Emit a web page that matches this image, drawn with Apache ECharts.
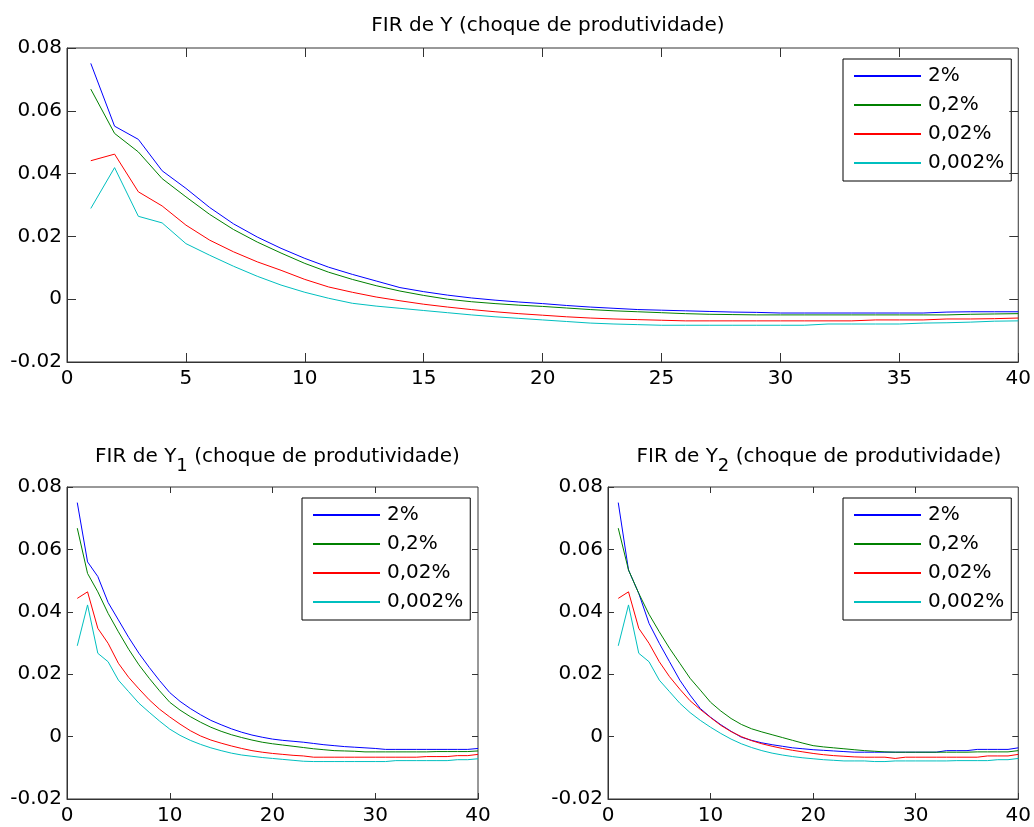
<!DOCTYPE html>
<html>
<head>
<meta charset="utf-8">
<script src="https://cdn.jsdelivr.net/npm/echarts@6/dist/echarts.min.js"></script>
<style>
  html, body { margin: 0; padding: 0; background: #fff; }
  #chart { width: 1034px; height: 827px; }
</style>
</head>
<body>
<div id="chart"></div>
<script>
// nomes das séries (legenda)
const seriesNames = ['2%', '0,2%', '0,02%', '0,002%'];
const seriesColors = ['#0000ff', '#008000', '#ff0000', '#00bfbf'];
const yTicks = [-0.02, 0, 0.02, 0.04, 0.06, 0.08];
const xTicksTop = [0, 5, 10, 15, 20, 25, 30, 35, 40];
const xTicksBottom = [0, 10, 20, 30, 40];

// FIR de Y, períodos 1..40
const yBlue = [0.0751, 0.0551, 0.0509, 0.0409, 0.0353, 0.0292, 0.0240, 0.0198, 0.0162, 0.0130,
    0.0102, 0.0079, 0.0058, 0.0037, 0.0024, 0.0013, 0.0004, -0.0003, -0.0009, -0.0014,
    -0.0020, -0.0025, -0.0029, -0.0033, -0.0035, -0.0037, -0.0039, -0.0041, -0.0042, -0.0044,
    -0.0044, -0.0044, -0.0044, -0.0044, -0.0044, -0.0044, -0.0041, -0.0040, -0.0040, -0.0040];
const yGreen = [0.0669, 0.0528, 0.0469, 0.0384, 0.0326, 0.0270, 0.0222, 0.0182, 0.0147, 0.0114,
    0.0086, 0.0063, 0.0043, 0.0026, 0.0012, 0.0000, -0.0008, -0.0014, -0.0019, -0.0023,
    -0.0028, -0.0033, -0.0037, -0.0040, -0.0043, -0.0046, -0.0048, -0.0049, -0.0050, -0.0050,
    -0.0050, -0.0050, -0.0050, -0.0050, -0.0050, -0.0050, -0.0050, -0.0048, -0.0047, -0.0046];
const yRed = [0.0441, 0.0462, 0.0342, 0.0297, 0.0236, 0.0188, 0.0151, 0.0119, 0.0092, 0.0063,
    0.0039, 0.0022, 0.0007, -0.0005, -0.0016, -0.0025, -0.0033, -0.0040, -0.0046, -0.0051,
    -0.0056, -0.0060, -0.0063, -0.0065, -0.0067, -0.0069, -0.0069, -0.0069, -0.0069, -0.0069,
    -0.0069, -0.0069, -0.0069, -0.0066, -0.0066, -0.0066, -0.0063, -0.0063, -0.0062, -0.0060];
const yCyan = [0.0289, 0.0419, 0.0264, 0.0243, 0.0177, 0.0140, 0.0105, 0.0073, 0.0045, 0.0022,
    0.0003, -0.0013, -0.0022, -0.0029, -0.0036, -0.0043, -0.0050, -0.0056, -0.0061, -0.0066,
    -0.0071, -0.0076, -0.0079, -0.0081, -0.0083, -0.0083, -0.0083, -0.0083, -0.0083, -0.0083,
    -0.0083, -0.0079, -0.0079, -0.0079, -0.0079, -0.0076, -0.0075, -0.0073, -0.0070, -0.0069];

// FIR de Y1
const y1Blue = [0.0750, 0.0560, 0.0513, 0.0430, 0.0374, 0.0318, 0.0267, 0.0222, 0.0180, 0.0141,
    0.0113, 0.0090, 0.0070, 0.0052, 0.0038, 0.0025, 0.0014, 0.0005, -0.0002, -0.0008,
    -0.0012, -0.0015, -0.0018, -0.0022, -0.0026, -0.0029, -0.0032, -0.0034, -0.0036, -0.0038,
    -0.0041, -0.0041, -0.0041, -0.0041, -0.0041, -0.0041, -0.0041, -0.0041, -0.0041, -0.0038];
const y1Green = [0.0668, 0.0523, 0.0464, 0.0395, 0.0336, 0.0280, 0.0230, 0.0187, 0.0147, 0.0110,
    0.0085, 0.0064, 0.0046, 0.0030, 0.0017, 0.0006, -0.0003, -0.0011, -0.0018, -0.0023,
    -0.0027, -0.0031, -0.0035, -0.0039, -0.0042, -0.0045, -0.0046, -0.0047, -0.0049, -0.0049,
    -0.0049, -0.0049, -0.0049, -0.0049, -0.0049, -0.0048, -0.0048, -0.0048, -0.0048, -0.0046];
const y1Red = [0.0443, 0.0464, 0.0347, 0.0299, 0.0235, 0.0190, 0.0153, 0.0118, 0.0088, 0.0063,
    0.0040, 0.0019, 0.0002, -0.0011, -0.0021, -0.0030, -0.0038, -0.0045, -0.0050, -0.0054,
    -0.0057, -0.0060, -0.0062, -0.0066, -0.0066, -0.0066, -0.0066, -0.0066, -0.0066, -0.0066,
    -0.0066, -0.0066, -0.0066, -0.0066, -0.0064, -0.0064, -0.0064, -0.0061, -0.0061, -0.0057];
const y1Cyan = [0.0291, 0.0422, 0.0267, 0.0240, 0.0181, 0.0144, 0.0107, 0.0078, 0.0050, 0.0024,
    0.0004, -0.0012, -0.0025, -0.0036, -0.0045, -0.0053, -0.0059, -0.0063, -0.0067, -0.0070,
    -0.0073, -0.0076, -0.0079, -0.0080, -0.0080, -0.0080, -0.0080, -0.0080, -0.0080, -0.0080,
    -0.0080, -0.0077, -0.0077, -0.0077, -0.0077, -0.0077, -0.0077, -0.0074, -0.0074, -0.0071];

// FIR de Y2
const y2Blue = [0.0750, 0.0534, 0.0459, 0.0363, 0.0299, 0.0240, 0.0181, 0.0133, 0.0090, 0.0062,
    0.0038, 0.0017, -0.0002, -0.0012, -0.0020, -0.0026, -0.0031, -0.0036, -0.0039, -0.0042,
    -0.0044, -0.0046, -0.0048, -0.0050, -0.0050, -0.0050, -0.0050, -0.0050, -0.0050, -0.0050,
    -0.0050, -0.0050, -0.0045, -0.0045, -0.0045, -0.0041, -0.0041, -0.0041, -0.0041, -0.0036];
const y2Green = [0.0668, 0.0534, 0.0459, 0.0392, 0.0336, 0.0283, 0.0235, 0.0187, 0.0149, 0.0110,
    0.0082, 0.0058, 0.0039, 0.0025, 0.0015, 0.0006, -0.0003, -0.0012, -0.0021, -0.0029,
    -0.0033, -0.0036, -0.0039, -0.0042, -0.0045, -0.0047, -0.0049, -0.0050, -0.0050, -0.0050,
    -0.0050, -0.0050, -0.0050, -0.0050, -0.0050, -0.0049, -0.0049, -0.0049, -0.0049, -0.0045];
const y2Red = [0.0443, 0.0464, 0.0347, 0.0299, 0.0240, 0.0192, 0.0152, 0.0115, 0.0087, 0.0061,
    0.0036, 0.0016, 0.0000, -0.0013, -0.0023, -0.0031, -0.0038, -0.0044, -0.0049, -0.0054,
    -0.0058, -0.0061, -0.0063, -0.0065, -0.0066, -0.0066, -0.0066, -0.0070, -0.0066, -0.0066,
    -0.0066, -0.0066, -0.0066, -0.0066, -0.0066, -0.0066, -0.0062, -0.0062, -0.0062, -0.0057];
const y2Cyan = [0.0291, 0.0422, 0.0267, 0.0240, 0.0181, 0.0144, 0.0107, 0.0077, 0.0052, 0.0030,
    0.0010, -0.0008, -0.0023, -0.0035, -0.0045, -0.0053, -0.0059, -0.0064, -0.0068, -0.0071,
    -0.0074, -0.0076, -0.0078, -0.0078, -0.0078, -0.0080, -0.0080, -0.0078, -0.0078, -0.0078,
    -0.0078, -0.0078, -0.0078, -0.0077, -0.0077, -0.0077, -0.0077, -0.0074, -0.0074, -0.0070];

const panels = [
    { title: 'FIR de Y (choque de produtividade)', data: [yBlue, yGreen, yRed, yCyan], xTicks: xTicksTop,
      grid: { left: 67, top: 48, width: 952, height: 314 }, titleY: 11, tick: 9,
      legend: { left: 843, top: 59 } },
    { title: 'FIR de Y{sub|1} (choque de produtividade)', data: [y1Blue, y1Green, y1Red, y1Cyan], xTicks: xTicksBottom,
      grid: { left: 67, top: 487, width: 411, height: 312 }, titleY: 434, tick: 6,
      legend: { left: 302, top: 498 } },
    { title: 'FIR de Y{sub|2} (choque de produtividade)', data: [y2Blue, y2Green, y2Red, y2Cyan], xTicks: xTicksBottom,
      grid: { left: 608, top: 487, width: 412, height: 312 }, titleY: 434, tick: 6,
      legend: { left: 843, top: 498 } }
];

const FONT = 'DejaVu Sans';
const FS = 20;
const frameColor = '#333333';
const X_MIN = 0, X_MAX = 40;
const Y_MIN = yTicks[0], Y_MAX = yTicks[yTicks.length - 1];

function toPoints(values) {
    return values.map((v, i) => [i + 1, v]);
}

function fmtY(v) {
    if (Math.abs(v) < 1e-9) return '0';
    return v.toFixed(2);
}

// traços internos do topo e da direita, como segmentos de markLine
function topRightTicks(p) {
    const g = p.grid;
    const dy = p.tick * (Y_MAX - Y_MIN) / g.height;
    const dx = p.tick * (X_MAX - X_MIN) / g.width;
    const segs = [];
    p.xTicks.slice(1, -1).forEach(v => {
        segs.push([{ coord: [v, Y_MAX] }, { coord: [v, Y_MAX - dy] }]);
    });
    yTicks.slice(1, -1).forEach(v => {
        segs.push([{ coord: [X_MAX, v] }, { coord: [X_MAX - dx, v] }]);
    });
    return segs;
}

const option = {
    animation: false,
    backgroundColor: '#fff',
    title: [], grid: [], xAxis: [], yAxis: [], legend: [], series: []
};

panels.forEach((p, k) => {
    const g = p.grid;
    option.grid.push({
        left: g.left, top: g.top, width: g.width, height: g.height,
        show: true, borderColor: frameColor, borderWidth: 1, backgroundColor: 'transparent'
    });
    option.title.push({
        text: p.title,
        left: g.left + g.width / 2,
        top: p.titleY,
        textAlign: 'center',
        textStyle: {
            fontFamily: FONT, fontSize: FS, fontWeight: 'normal', color: '#000',
            rich: { sub: { fontFamily: FONT, fontSize: 18, color: '#000', padding: [18, 0, 0, 0] } }
        }
    });
    option.xAxis.push({
        type: 'value', gridIndex: k, min: X_MIN, max: X_MAX, interval: X_MAX / (p.xTicks.length - 1),
        axisLine: { show: true, onZero: false, lineStyle: { color: frameColor, width: 1 } },
        axisTick: { show: true, inside: true, length: p.tick, lineStyle: { color: frameColor, width: 1 } },
        splitLine: { show: false },
        axisLabel: { fontFamily: FONT, fontSize: FS, color: '#000', margin: 7 }
    });
    option.yAxis.push({
        type: 'value', gridIndex: k, min: Y_MIN, max: Y_MAX, interval: 0.02,
        axisLine: { show: true, onZero: false, lineStyle: { color: frameColor, width: 1 } },
        axisTick: { show: true, inside: true, length: p.tick, lineStyle: { color: frameColor, width: 1 } },
        splitLine: { show: false },
        axisLabel: { fontFamily: FONT, fontSize: FS, color: '#000', margin: 5, formatter: fmtY }
    });

    option.legend.push({
        left: p.legend.left, top: p.legend.top, orient: 'vertical',
        data: seriesNames, icon: 'rect', itemWidth: 67, itemHeight: 2, itemGap: 9,
        padding: [7, 7, 8, 11], borderColor: '#000', borderWidth: 1, borderRadius: 0,
        backgroundColor: '#fff', selectedMode: false,
        textStyle: { fontFamily: FONT, fontSize: FS, color: '#000', lineHeight: 20, padding: [0, 0, 0, 2] }
    });
    p.data.forEach((vals, j) => {
        const s = {
            name: seriesNames[j], type: 'line', xAxisIndex: k, yAxisIndex: k,
            data: toPoints(vals), symbol: 'none', showSymbol: false,
            lineStyle: { color: seriesColors[j], width: 1 }, itemStyle: { color: seriesColors[j] },
            emphasis: { disabled: true }
        };
        if (j === 0) {
            s.markLine = {
                silent: true, symbol: ['none', 'none'], label: { show: false },
                lineStyle: { color: frameColor, width: 1, type: 'solid' },
                emphasis: { disabled: true },
                data: topRightTicks(p)
            };
        }
        option.series.push(s);
    });
});

const chart = echarts.init(document.getElementById('chart'), null, { renderer: 'canvas' });
chart.setOption(option);
window.addEventListener('resize', function () { chart.resize(); });
</script>
</body>
</html>
